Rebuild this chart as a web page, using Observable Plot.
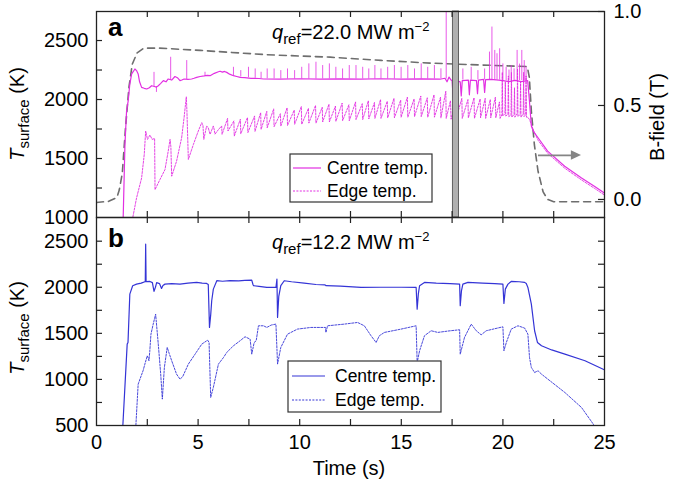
<!DOCTYPE html>
<html><head><meta charset="utf-8">
<script src="https://cdn.jsdelivr.net/npm/d3@7"></script>
<script src="https://cdn.jsdelivr.net/npm/@observablehq/plot@0.6"></script>
<style>
body{margin:0;background:#fff;}
#chart{width:675px;height:484px;font-family:"Liberation Sans",Arial,sans-serif;}
#chart svg{display:block;overflow:visible;}
</style></head><body><div id="chart"></div><script>
// ---------- data ----------
const timeTicks = [0, 5, 10, 15, 20, 25];
const timeMinor = [2.5, 5, 7.5, 10, 12.5, 15, 17.5, 20, 22.5];
const tempTicksA = [1000, 1500, 2000, 2500];
const tempMinorA = [1250, 1500, 1750, 2000, 2250, 2500];
const tempTicksB = [500, 1000, 1500, 2000, 2500];
const tempMinorB = [750, 1000, 1250, 1500, 1750, 2000, 2250, 2500];
const bTicks = [0.0, 0.5, 1.0];

// panel a: B-field (T) vs time (s)
const bField = [[0,-0.016],[0.6,-0.01],[1.0,0.01],[1.12,0.05],[1.27,0.14],[1.43,0.385],[1.6,0.6],[1.76,0.72],[2.0,0.78],[2.33,0.805],[3.1,0.805],[5.1,0.793],[8.4,0.77],[11.5,0.757],[14,0.74],[16.5,0.725],[19,0.715],[21.2,0.707],[21.3,0.65],[21.4,0.47],[21.55,0.29],[21.73,0.15],[21.98,0.04],[22.2,0.0],[22.5,-0.012],[25,-0.012]];

// panel a: centre temperature (K), base trace
const centreA = [[1.30,900],[1.40,1620],[1.48,1904],[1.56,1989],[1.64,2131],[1.73,2217],[1.82,2240],[1.89,2259],[1.97,2245],[2.05,2217],[2.12,2150],[2.22,2103],[2.35,2095],[2.47,2089],[2.6,2100],[2.71,2117],[2.85,2110],[2.95,2105],[3.04,2117],[3.15,2135],[3.29,2160],[3.42,2150],[3.53,2174],[3.7,2165],[3.86,2195],[3.98,2185],[4.11,2160],[4.2,2165],[4.31,2174],[4.5,2170],[4.68,2174],[4.8,2180],[4.93,2188],[5.1,2195],[5.3,2200],[5.45,2205],[5.59,2202],[5.8,2222],[6.0,2235],[6.08,2240],[6.2,2232],[6.3,2238],[6.41,2230],[6.55,2215],[6.74,2202],[6.9,2195],[7.07,2188],[7.3,2185],[7.6,2180],[8.0,2178],[8.22,2174],[9,2172],[10,2176],[11,2172],[12,2175],[13,2172],[14,2176],[15,2173],[16,2175],[16.9,2172],[17.15,2180],[17.25,2150],[17.35,2190],[17.45,2165],[17.5,2160],[17.55,2020],[17.6,2165],[17.9,2150],[17.95,2030],[18.0,2160],[18.3,2165],[18.35,2040],[18.4,2165],[18.7,2160],[18.75,2050],[18.8,2165],[19.05,2170],[19.1,2060],[19.15,2168],[19.4,2170],[19.8,2165],[20.0,2160],[20.3,2152],[20.6,2162],[20.9,2152],[21.22,2160],[21.3,2000],[21.4,1776],[21.5,1730],[21.73,1676],[22.2,1563],[23.04,1435],[23.87,1335],[24.5,1265],[25,1207]];
// panel a: centre-temperature spikes [time, base, peak]
const spikesA = [[2.83,2110,2230],[2.95,2110,2060],[3.65,2165,2358],[4.44,2170,2330],[5.34,2200,2231],[6.74,2202,2273],[7.1,2190,2245],[7.48,2185,2273],[7.81,2180,2259],[8.1,2178,2231],[8.4,2176,2259],[8.74,2175,2259],[9.07,2174,2245],[9.4,2174,2259],[9.75,2174,2245],[10.1,2174,2273],[10.45,2174,2302],[10.8,2174,2316],[11.13,2174,2288],[11.46,2174,2302],[11.78,2174,2273],[12.11,2174,2259],[12.44,2174,2288],[12.77,2174,2288],[13.1,2174,2273],[13.4,2174,2259],[13.7,2174,2288],[14.0,2174,2259],[14.33,2174,2273],[14.66,2174,2288],[14.99,2174,2273],[15.32,2174,2288],[15.65,2174,2259],[15.98,2174,2302],[16.3,2174,2273],[16.63,2174,2288],[16.95,2174,2260],[17.21,2174,2800],[17.7,2165,2259],[18.03,2165,2259],[18.44,2165,2273],[18.77,2165,2245],[19.1,2165,2259],[19.34,2165,2402],[19.46,2165,2614],[19.6,2165,2416],[19.71,2165,2388],[19.84,2165,2430],[20.0,2160,2302],[20.16,2160,2273],[20.3,2160,2250],[20.41,2160,2288],[20.55,2160,2260],[20.7,2160,2416],[20.82,2160,2300],[20.93,2160,2416],[21.05,2160,2330],[21.14,2160,2273]];
// panel a: edge temperature (K)
const edgeA = [[1.73,950],[1.97,1165],[2.22,1335],[2.35,1534],[2.42,1733],[2.51,1662],[2.63,1699],[2.74,1662],[2.86,1670],[2.88,1236],[3.12,1321],[3.37,1406],[3.53,1563],[3.62,1662],[3.66,1600],[3.7,1350],[3.94,1477],[4.19,1676],[4.31,1847],[4.42,2023],[4.45,1900],[4.52,1492],[4.77,1620],[5.01,1733],[5.18,1804],[5.24,1780],[5.28,1662],[5.42,1776],[5.5,1760],[5.59,1705],[5.75,1776],[5.8,1740],[5.83,1706],[6.0,1745],[6.16,1776],[6.18,1705],[6.45,1840],[6.47,1733],[6.76,1818],[6.78,1690],[7.08,1833],[7.10,1710],[7.43,1847],[7.45,1720],[7.78,1861],[7.80,1730],[8.08,1889],[8.10,1747],[8.38,1900],[8.40,1760],[8.72,1920],[8.74,1770],[9.05,1880],[9.07,1775],[9.38,1930],[9.40,1780],[9.73,1910],[9.75,1790],[10.08,1940],[10.10,1790],[10.43,1925],[10.45,1800],[10.78,1950],[10.80,1800],[11.11,1935],[11.13,1810],[11.44,1960],[11.46,1810],[11.76,1945],[11.78,1815],[12.09,1970],[12.11,1820],[12.42,1955],[12.44,1820],[12.75,1980],[12.77,1830],[13.08,1965],[13.10,1830],[13.38,1990],[13.40,1835],[13.68,1975],[13.70,1840],[13.98,2000],[14.00,1840],[14.31,1985],[14.33,1845],[14.64,2010],[14.66,1845],[14.97,1995],[14.99,1850],[15.30,2020],[15.32,1850],[15.63,2005],[15.65,1855],[15.96,2030],[15.98,1855],[16.28,2015],[16.30,1850],[16.61,2040],[16.63,1850],[16.93,2020],[16.95,1845],[17.19,2070],[17.21,1840],[17.42,1990],[17.45,1833],[17.68,1980],[17.7,1840],[17.98,2010],[18.0,1840],[18.28,2000],[18.3,1845],[18.58,2015],[18.6,1840],[18.88,2005],[18.9,1845],[19.13,2010],[19.15,1840],[19.38,2000],[19.4,1845],[19.63,2020],[19.65,1845],[19.83,1980],[19.86,1840],[19.95,1870],[19.97,2230],[19.99,1860],[20.1,1880],[20.12,2150],[20.14,1860],[20.25,1875],[20.27,2200],[20.29,1855],[20.4,1870],[20.42,2230],[20.44,1850],[20.55,1875],[20.57,2100],[20.59,1850],[20.7,1880],[20.72,2260],[20.74,1855],[20.85,1875],[20.87,2150],[20.89,1850],[21.0,1880],[21.02,2230],[21.04,1855],[21.12,1870],[21.14,2200],[21.16,1850],[21.22,1850],[21.3,1833],[21.4,1790],[21.5,1740],[21.73,1655],[22.2,1545],[23.04,1418],[23.87,1318],[24.5,1248],[25,1190]];
// panel a: shaded interval (s) and arrow pointing to the B-field axis
const bandA = [{t0: 17.54, t1: 17.84}];
const arrowA = {from: 21.75, to: 23.87, b: 0.234};

// panel b: centre temperature (K)
const centreB = [[1.28,430],[1.51,1383],[1.55,1400],[1.64,1925],[1.78,2017],[1.97,2034],[2.2,2045],[2.38,2060],[2.40,2060],[2.42,2468],[2.44,2062],[2.63,2063],[2.75,2050],[2.83,1955],[2.9,2000],[2.96,2050],[3.1,2040],[3.2,1987],[3.27,2020],[3.37,2034],[3.7,2040],[4.11,2034],[4.5,2045],[4.93,2053],[5.2,2045],[5.42,2042],[5.5,2030],[5.56,1564],[5.62,1700],[5.67,1854],[5.75,1980],[5.92,2071],[6.2,2065],[6.57,2071],[7.0,2070],[7.3,2075],[7.64,2078],[7.7,2030],[7.73,2017],[8.0,2010],[8.38,1998],[8.83,1998],[8.88,2088],[8.91,1673],[8.97,1900],[9.07,2017],[9.24,2071],[9.6,2060],[10.22,2045],[10.8,2030],[11.25,2025],[11.3,2017],[12,2012],[13.02,1998],[14,2000],[15.0,2000],[15.73,1998],[15.78,1763],[15.84,1930],[15.9,2017],[16.14,2053],[16.72,2045],[17.4,2040],[17.87,2034],[17.9,1800],[17.96,1960],[18.03,2034],[18.28,2053],[19.0,2045],[19.6,2040],[20.0,2034],[20.05,1825],[20.12,1980],[20.25,2034],[20.41,2063],[20.8,2060],[21.07,2053],[21.15,2040],[21.23,1998],[21.4,1817],[21.56,1528],[21.7,1401],[21.9,1365],[22.4,1320],[23.05,1274],[24.04,1203],[25,1104]];
// panel b: edge temperature (K)
const edgeB = [[1.92,430],[2.05,948],[2.14,1003],[2.3,1100],[2.38,1166],[2.5,1257],[2.55,1230],[2.58,1203],[2.62,1300],[2.68,1491],[2.79,1600],[2.91,1708],[3.04,1383],[3.16,1057],[3.24,786],[3.34,1130],[3.48,1347],[3.58,1280],[3.7,1203],[3.94,1057],[4.11,1003],[4.24,1029],[4.52,1166],[4.85,1274],[5.18,1383],[5.47,1426],[5.54,1401],[5.62,805],[5.75,913],[6.0,1166],[6.25,1238],[6.41,1293],[6.74,1365],[7.07,1420],[7.31,1463],[7.56,1437],[7.64,1274],[7.76,1401],[7.86,1420],[7.97,1582],[8.22,1582],[8.38,1564],[8.6,1590],[8.83,1600],[8.91,1166],[9.07,1347],[9.4,1491],[9.89,1546],[10.55,1564],[11.27,1564],[11.29,1510],[11.37,1582],[12.19,1600],[12.85,1618],[13.18,1582],[13.51,1474],[13.76,1401],[13.92,1474],[14.17,1510],[14.99,1546],[15.73,1582],[15.78,1184],[15.9,1311],[16.14,1474],[16.47,1528],[16.8,1510],[17.3,1525],[17.87,1539],[17.9,1274],[18.11,1455],[18.44,1600],[18.69,1528],[18.93,1484],[19.18,1528],[20.0,1571],[20.05,1311],[20.17,1401],[20.41,1546],[20.74,1582],[21.07,1557],[21.23,1491],[21.31,1238],[21.4,1130],[21.56,1075],[21.73,1094],[21.9,1057],[23.05,858],[23.87,695],[24.45,514],[24.55,460]];

// ---------- layout / style ----------
const W = 675, ML = 96, MR = 71;
const HA = 217, MTA = 11, HB = 267, MBB = 59;
const xDom = [0, 25];
const yDomA = [1000, 2746], bDom = [-0.096, 1.0], yDomB = [500, 2757];
const magenta = "#e22fe2", blue = "#3434d6", bgray = "#6e6e6e";
const font = "'Liberation Sans', Arial, sans-serif";
const bToT = b => yDomA[0] + (b - bDom[0]) / (bDom[1] - bDom[0]) * (yDomA[1] - yDomA[0]);
const tk = 6;
const tkX = tk * (xDom[1] - xDom[0]) / (W - ML - MR);
const tkA = tk * (yDomA[1] - yDomA[0]) / (HA - MTA);
const tkB = tk * (yDomB[1] - yDomB[0]) / (HB - MBB);
const fmt = d => String(d);

function tickMarks(yDom, tkY, yMinor, withRight) {
  const m = [
    Plot.ruleX(timeMinor, {x: d => d, y1: () => yDom[0], y2: () => yDom[0] + tkY, stroke: "#222", strokeWidth: 1.2}),
    Plot.ruleX(timeMinor, {x: d => d, y1: () => yDom[1] - tkY, y2: () => yDom[1], stroke: "#222", strokeWidth: 1.2}),
    Plot.ruleY(yMinor, {y: d => d, x1: () => xDom[0], x2: () => xDom[0] + tkX, stroke: "#222", strokeWidth: 1.2})
  ];
  if (withRight) m.push(Plot.ruleY(yMinor, {y: d => d, x1: () => xDom[1] - tkX, x2: () => xDom[1], stroke: "#222", strokeWidth: 1.2}));
  return m;
}

// ---------- panel a ----------
const plotA = Plot.plot({
  width: W, height: HA, marginLeft: ML, marginRight: MR, marginTop: MTA, marginBottom: 0,
  style: {fontFamily: font, fontSize: "20px", color: "#000", background: "white", overflow: "visible"},
  x: {domain: xDom, axis: null},
  y: {domain: yDomA, ticks: tempTicksA, tickSize: 0, tickPadding: 8, tickFormat: fmt, label: null},
  marks: [
    Plot.line(bField, {x: d => d[0], y: d => bToT(d[1]), stroke: bgray, strokeWidth: 1.6, strokeDasharray: "7,5", clip: true}),
    Plot.line(edgeA, {x: d => d[0], y: d => d[1], stroke: magenta, strokeWidth: 0.9, strokeDasharray: "2,1.4", clip: true}),
    Plot.line(centreA, {x: d => d[0], y: d => d[1], stroke: magenta, strokeWidth: 1.2, clip: true}),
    Plot.ruleX(spikesA, {x: d => d[0], y1: d => d[1], y2: d => d[2], stroke: magenta, strokeWidth: 0.8, clip: true}),
    Plot.rect(bandA, {x1: "t0", x2: "t1", fill: "#b0b0b0", stroke: "#555", strokeWidth: 0.9}),
    Plot.ruleY([arrowA], {y: d => bToT(d.b), x1: d => d.from, x2: d => d.to - 0.4, stroke: "#858585", strokeWidth: 1.8}),
    Plot.areaY([0, 1], {x: i => i ? arrowA.to : arrowA.to - 0.5,
      y1: i => i ? bToT(arrowA.b) : bToT(arrowA.b - 0.025),
      y2: i => i ? bToT(arrowA.b) : bToT(arrowA.b + 0.025), fill: "#858585"}),
    Plot.text(bTicks, {x: () => xDom[1], y: d => bToT(d), text: d => d.toFixed(1), dx: 9, textAnchor: "start", fill: "#000", fontSize: 20}),
    Plot.ruleY(bTicks, {y: d => bToT(d), x1: () => xDom[1] - tkX, x2: () => xDom[1], stroke: "#222", strokeWidth: 1.2}),
    ...tickMarks(yDomA, tkA, tempMinorA, false),
    Plot.frame({stroke: "#222", strokeWidth: 1.3})
  ]
});

// ---------- panel b ----------
const plotB = Plot.plot({
  width: W, height: HB, marginLeft: ML, marginRight: MR, marginTop: 0, marginBottom: MBB,
  style: {fontFamily: font, fontSize: "20px", color: "#000", background: "white", overflow: "visible"},
  x: {domain: xDom, ticks: timeTicks, tickSize: 0, tickPadding: 9, tickFormat: fmt, label: null},
  y: {domain: yDomB, ticks: tempTicksB, tickSize: 0, tickPadding: 8, tickFormat: fmt, label: null},
  marks: [
    Plot.line(edgeB, {x: d => d[0], y: d => d[1], stroke: blue, strokeWidth: 0.9, strokeDasharray: "2,1.4", clip: true}),
    Plot.line(centreB, {x: d => d[0], y: d => d[1], stroke: blue, strokeWidth: 1.2, clip: true}),
    ...tickMarks(yDomB, tkB, tempMinorB, true),
    Plot.frame({stroke: "#222", strokeWidth: 1.3})
  ]
});

const root = document.getElementById("chart");
root.append(plotA, plotB);

// ---------- text overlays ----------
function txt(sel, anchor) {
  return sel.append("text").attr("font-family", font).attr("fill", "#000").attr("text-anchor", anchor || "start");
}
function yTitle(svg, cx, cy) {
  const t = txt(d3.select(svg), "middle").attr("transform", `translate(${cx},${cy}) rotate(-90)`).attr("font-size", 20);
  t.append("tspan").attr("font-style", "italic").text("T");
  t.append("tspan").attr("font-size", 15).attr("dy", 5).text("surface");
  t.append("tspan").attr("dy", -5).text(" (K)");
}
function qRef(svg, x, y, val) {
  const t = txt(d3.select(svg)).attr("x", x).attr("y", y).attr("font-size", 20);
  t.append("tspan").attr("font-style", "italic").text("q");
  t.append("tspan").attr("font-size", 15).attr("dy", 5).text("ref");
  t.append("tspan").attr("dy", -5).text(`=${val} MW m`);
  t.append("tspan").attr("font-size", 13).attr("dy", -8).text("\u22122");
}
function panelLabel(svg, x, y, s) {
  txt(d3.select(svg)).attr("x", x).attr("y", y).attr("font-size", 26).attr("font-weight", "bold").text(s);
}
function legend(svg, x, y, w, h, color, lx1, lx2, y1, y2, tx) {
  const g = d3.select(svg).append("g");
  g.append("rect").attr("x", x).attr("y", y).attr("width", w).attr("height", h)
    .attr("fill", "white").attr("stroke", "#333").attr("stroke-width", 1.2);
  g.append("line").attr("x1", lx1).attr("x2", lx2).attr("y1", y1).attr("y2", y1)
    .attr("stroke", color).attr("stroke-width", 1.2);
  g.append("line").attr("x1", lx1).attr("x2", lx2).attr("y1", y2).attr("y2", y2)
    .attr("stroke", color).attr("stroke-width", 1).attr("stroke-dasharray", "2,1.4");
  txt(g).attr("x", tx).attr("y", y1 + 6).attr("font-size", 17.5).text("Centre temp.");
  txt(g).attr("x", tx).attr("y", y2 + 6).attr("font-size", 17.5).text("Edge temp.");
}

panelLabel(plotA, 108, 36, "a");
qRef(plotA, 272, 39, "22.0");
yTitle(plotA, 24, 114);
txt(d3.select(plotA), "middle").attr("transform", "translate(664,117) rotate(-90)").attr("font-size", 20).text("B-field (T)");
legend(plotA, 290, 154, 142, 48, magenta, 293, 321, 168, 191, 327);

panelLabel(plotB, 108, 30, "b");
qRef(plotB, 272, 32, "12.2");
yTitle(plotB, 24, 111);
txt(d3.select(plotB), "middle").attr("x", 349).attr("y", 258).attr("font-size", 20).text("Time (s)");
legend(plotB, 288, 144, 153, 51, blue, 292, 325, 159, 183, 335);
</script></body></html>
